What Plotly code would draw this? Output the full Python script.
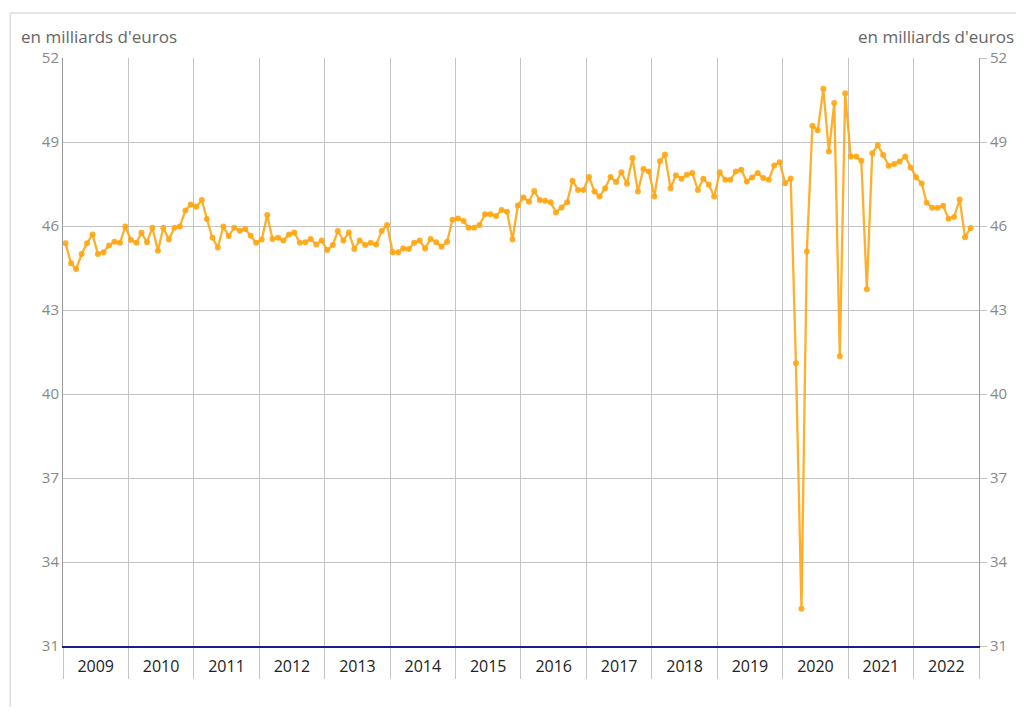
import plotly.graph_objects as go

years = list(range(2009, 2023))
year_labels = [str(y) for y in years]

values = [
    # 2009
    45.38, 44.67, 44.46, 45.00, 45.38, 45.70, 45.00, 45.06, 45.30, 45.44, 45.40, 45.98,
    # 2010
    45.50, 45.40, 45.76, 45.42, 45.94, 45.12, 45.94, 45.52, 45.94, 45.98, 46.55, 46.77,
    # 2011
    46.69, 46.93, 46.25, 45.58, 45.23, 45.98, 45.64, 45.94, 45.83, 45.89, 45.65, 45.40,
    # 2012
    45.52, 46.39, 45.54, 45.58, 45.48, 45.70, 45.77, 45.40, 45.42, 45.54, 45.34, 45.48,
    # 2013
    45.14, 45.32, 45.82, 45.48, 45.77, 45.18, 45.48, 45.32, 45.40, 45.34, 45.82, 46.04,
    # 2014
    45.06, 45.06, 45.20, 45.18, 45.40, 45.48, 45.20, 45.54, 45.42, 45.26, 45.44, 46.22,
    # 2015
    46.27, 46.18, 45.94, 45.94, 46.04, 46.42, 46.42, 46.36, 46.57, 46.51, 45.52, 46.73,
    # 2016
    47.02, 46.87, 47.25, 46.93, 46.90, 46.85, 46.48, 46.66, 46.85, 47.62, 47.29, 47.29,
    # 2017
    47.75, 47.23, 47.05, 47.35, 47.75, 47.57, 47.92, 47.51, 48.43, 47.23, 48.04, 47.95,
    # 2018
    47.05, 48.31, 48.55, 47.35, 47.81, 47.69, 47.83, 47.89, 47.29, 47.69, 47.47, 47.05,
    # 2019
    47.92, 47.65, 47.65, 47.95, 48.01, 47.59, 47.73, 47.89, 47.71, 47.65, 48.16, 48.28,
    # 2020
    47.53, 47.70, 41.10, 32.33, 45.09, 49.58, 49.42, 50.90, 48.66, 50.39, 41.35, 50.74,
    # 2021
    48.48, 48.48, 48.33, 43.74, 48.60, 48.88, 48.54, 48.15, 48.21, 48.30, 48.48, 48.09,
    # 2022
    47.74, 47.52, 46.83, 46.65, 46.65, 46.72, 46.26, 46.32, 46.95, 45.60, 45.93,
]

dates = []
for i in range(len(values)):
    y = 2009 + i // 12
    m = i % 12 + 1
    dates.append(f"{y}-{m:02d}-15")

y_ticks = [31, 34, 37, 40, 43, 46, 49, 52]
unit_label = "en milliards d'euros"

LINE = "rgba(255,166,20,0.9)"
GRID = "#c4c4c4"
FONT = "Open Sans"

# page is rendered with an 8px body margin; plot area sits at page x 63..983, y 58..646
fig = go.Figure()
fig.add_trace(go.Scatter(
    x=dates, y=values, mode="lines+markers",
    line=dict(color=LINE, width=2.3),
    marker=dict(color=LINE, size=6),
    showlegend=False, hoverinfo="x+y",
))
fig.add_trace(go.Scatter(
    x=dates, y=values, mode="lines", yaxis="y2",
    line=dict(color="rgba(0,0,0,0)", width=0),
    showlegend=False, hoverinfo="skip",
))

fig.update_layout(
    width=1012, height=699,
    margin=dict(l=55, r=37, t=50, b=61),
    paper_bgcolor="white", plot_bgcolor="white",
    font=dict(family=FONT, size=14, color="#333"),
    xaxis=dict(
        type="date",
        range=["2009-01-01", "2023-01-01"],
        dtick="M12", tick0="2009-01-01",
        ticklabelmode="period", tickformat="%Y",
        showgrid=True, gridcolor=GRID, gridwidth=1,
        ticks="outside", ticklen=31, tickcolor=GRID, tickwidth=1,
        ticklabelstandoff=-26,
        showline=True, linecolor="#1c1c8a", linewidth=1.5,
        tickfont=dict(family=FONT, size=16, color="#222"),
        zeroline=False,
    ),
    yaxis=dict(
        range=[31, 52], tickvals=y_ticks,
        showgrid=True, gridcolor=GRID, gridwidth=1,
        showline=True, linecolor="#9a9a9a", linewidth=1,
        ticks="", zeroline=False,
        tickfont=dict(family=FONT, size=15, color="#888"),
    ),
    yaxis2=dict(
        range=[31, 52], tickvals=y_ticks, overlaying="y", side="right",
        showgrid=False, showline=True, linecolor="#9a9a9a", linewidth=1,
        ticks="outside", ticklen=7, tickcolor=GRID,
        zeroline=False,
        tickfont=dict(family=FONT, size=15, color="#888"),
    ),
    annotations=[
        dict(text=unit_label, xref="paper", yref="paper",
             x=(19 - 63) / 920, y=(646 - 37) / 588, xanchor="left", yanchor="middle",
             showarrow=False, font=dict(family=FONT, size=17, color="#666")),
        dict(text=unit_label, xref="paper", yref="paper",
             x=(1020 - 63) / 920, y=(646 - 37) / 588, xanchor="right", yanchor="middle",
             showarrow=False, font=dict(family=FONT, size=17, color="#666")),
    ],
    shapes=[
        dict(type="line", xref="paper", yref="paper",
             x0=(10 - 63) / 920, x1=(1020 - 63) / 920,
             y0=(646 - 13) / 588, y1=(646 - 13) / 588,
             line=dict(color="#dddddd", width=1.5)),
        dict(type="line", xref="paper", yref="paper",
             x0=(10 - 63) / 920, x1=(10 - 63) / 920,
             y0=(646 - 13) / 588, y1=(646 - 720) / 588,
             line=dict(color="#dddddd", width=1.5)),
    ],
)

fig.write_html("out.html")
